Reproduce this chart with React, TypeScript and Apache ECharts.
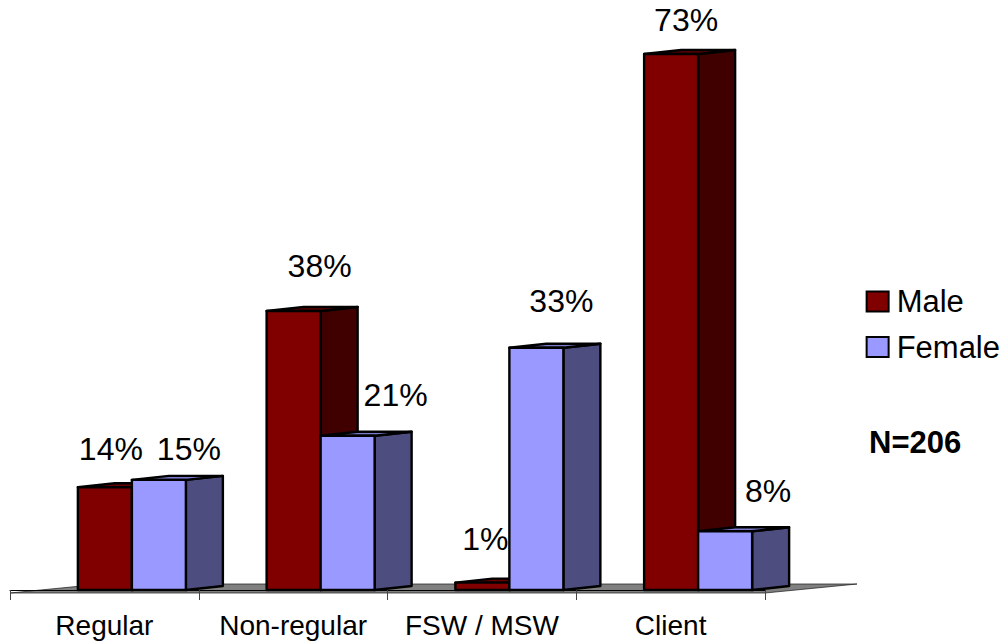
import React, { useEffect, useRef } from "react";
import * as echarts from "echarts";

const categories = ["Regular", "Non-regular", "FSW / MSW", "Client"];
const maleValues = [14, 38, 1, 73];
const femaleValues = [15, 21, 33, 8];
const legendNames = ["Male", "Female"];
const noteText = "N=206";

const FONT = '"Liberation Sans", Arial, sans-serif';
const W = 1004;
const H = 642;
const GRID = { left: 10, width: 755, top: 54, height: 536 };
const BAR_W = 54;
const DEPTH_X = 37;
const DEPTH_Y = 4;
// Label placement relative to the top-left of each bar's front face
const maleLabelNudge = [[33, -38], [53, -45], [30, -44], [42, -34]];
const femaleLabelNudge = [[57, -31], [75, -41], [52, -47], [70, -40]];

const barSeries = (
  name: string,
  values: number[],
  startOffset: number,
  nudge: number[][],
  front: string,
  top: string,
  side: string,
) => ({
  name,
  type: "custom",
  z: 3,
  clip: false,
  itemStyle: { color: front },
  encode: { x: 0, y: 1 },
  data: values.map((v, i) => [i, v]),
  renderItem: (_p: any, api: any) => {
    const i = api.value(0);
    const v = api.value(1);
    const [cx, yTop] = api.coord([i, v]);
    const [, y0] = api.coord([i, 0]);
    const x0 = cx + startOffset;
    const x1 = x0 + BAR_W;
    const stroke = { stroke: "#000", lineWidth: 2.4, lineJoin: "round" };
    const face = (points: number[][], fill: string) => ({
      type: "polygon",
      shape: { points },
      style: { fill, ...stroke },
    });
    return {
      type: "group",
      children: [
        face(
          [[x1, yTop], [x1 + DEPTH_X, yTop - DEPTH_Y], [x1 + DEPTH_X, y0 - DEPTH_Y], [x1, y0]],
          side,
        ),
        face(
          [[x0, yTop], [x0 + DEPTH_X, yTop - DEPTH_Y], [x1 + DEPTH_X, yTop - DEPTH_Y], [x1, yTop]],
          top,
        ),
        face([[x0, yTop], [x1, yTop], [x1, y0], [x0, y0]], front),
        {
          type: "text",
          style: {
            text: `${v}%`,
            x: x0 + nudge[i][0],
            y: yTop + nudge[i][1],
            textAlign: "center",
            textVerticalAlign: "middle",
            fontFamily: FONT,
            fontSize: 32,
            fill: "#000",
          },
        },
      ],
    };
  },
});

export default function App() {
  const ref = useRef<HTMLDivElement>(null);
  useEffect(() => {
    document.body.style.margin = "0";
    const chart = echarts.init(ref.current!, null, { renderer: "svg" });
    chart.setOption({
      animation: false,
      backgroundColor: "#fff",
      textStyle: { fontFamily: FONT },
      grid: { ...GRID, containLabel: false },
      xAxis: {
        type: "category",
        data: categories,
        offset: 3,
        axisLine: { show: true, lineStyle: { color: "#000", width: 1 } },
        axisTick: { show: true, interval: 0, length: 10, lineStyle: { color: "#444", width: 1 } },
        axisLabel: { interval: 0, fontFamily: FONT, fontSize: 28, color: "#000", margin: 18 },
      },
      yAxis: { type: "value", min: 0, max: 73, show: false, splitLine: { show: false } },
      legend: {
        data: legendNames,
        orient: "vertical",
        right: 4,
        top: 286,
        padding: 0,
        itemWidth: 22,
        itemHeight: 20,
        itemGap: 14.5,
        icon: "rect",
        align: "left",
        itemStyle: { borderColor: "#000", borderWidth: 2 },
        textStyle: { fontFamily: FONT, fontSize: 31, color: "#000", padding: [0, 0, 0, 3] },
        selectedMode: false,
      },
      graphic: [
        {
          type: "polygon",
          z: 0,
          shape: { points: [[10, 593], [765, 593], [857, 584], [102, 584]] },
          style: { fill: "#808080", stroke: "#222", lineWidth: 0.75 },
        },
        {
          type: "text",
          z: 5,
          style: {
            text: noteText,
            x: 869,
            y: 442,
            textVerticalAlign: "middle",
            fontFamily: FONT,
            fontSize: 31,
            fontWeight: "bold",
            fill: "#000",
          },
        },
      ],
      series: [
        barSeries(legendNames[0], maleValues, -26.5, maleLabelNudge, "#800000", "#660000", "#400000"),
        barSeries(legendNames[1], femaleValues, 27.5, femaleLabelNudge, "#9999FF", "#7A7ACC", "#4D4D80"),
      ],
    });
    return () => chart.dispose();
  }, []);
  return <div ref={ref} style={{ position: "absolute", left: 0, top: 0, width: W, height: H }} />;
}
